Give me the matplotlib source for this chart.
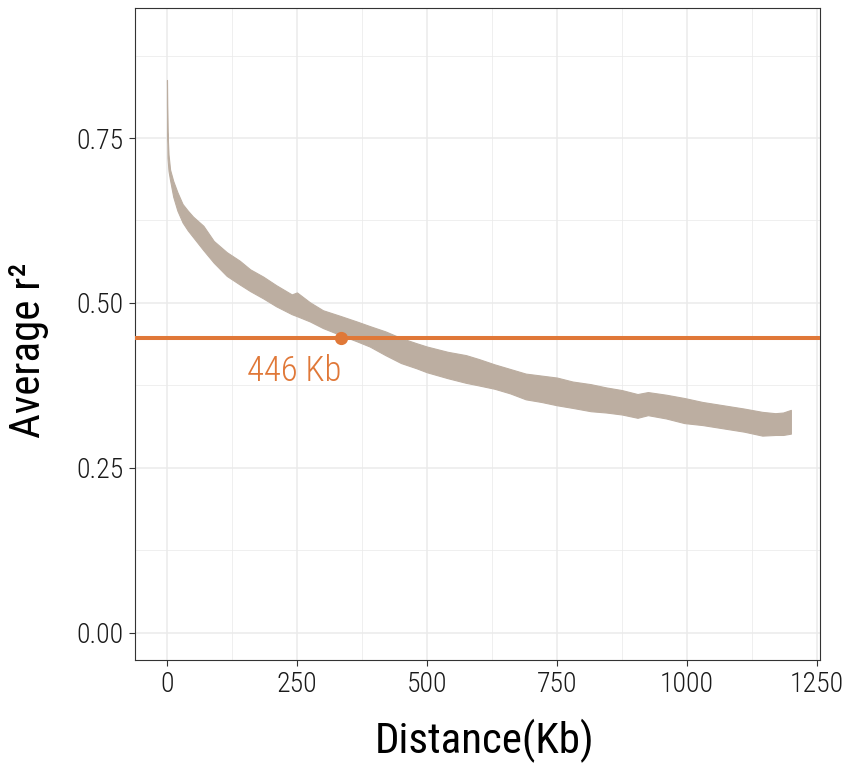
import matplotlib
matplotlib.use("Agg")
import matplotlib.pyplot as plt
from matplotlib.ticker import MultipleLocator, FixedLocator

plt.rcParams['font.family'] = ['Roboto Condensed', 'Liberation Sans Narrow', 'Roboto', 'DejaVu Sans']
plt.rcParams['font.weight'] = 'light'

# Data: envelope of the average r^2 band
dist_kb = [0, 1, 3, 6, 12, 20, 30, 40, 50, 70, 90, 115, 140, 160, 185, 210, 240, 250,
           275, 300, 335, 365, 390, 420, 450, 480, 500, 540, 575, 600, 630, 660, 690,
           720, 750, 780, 815, 845, 875, 905, 925, 960, 995, 1030, 1070, 1110, 1145,
           1170, 1185, 1200]
r2_upper = [0.838, 0.760, 0.725, 0.702, 0.685, 0.668, 0.650, 0.640, 0.631, 0.617, 0.594,
            0.577, 0.564, 0.551, 0.540, 0.527, 0.513, 0.516, 0.501, 0.489, 0.480, 0.472,
            0.465, 0.457, 0.447, 0.439, 0.434, 0.426, 0.421, 0.415, 0.407, 0.400, 0.393,
            0.390, 0.387, 0.381, 0.377, 0.372, 0.368, 0.362, 0.365, 0.361, 0.356, 0.350,
            0.345, 0.340, 0.335, 0.333, 0.334, 0.338]
r2_lower = [0.800, 0.720, 0.700, 0.686, 0.661, 0.640, 0.622, 0.610, 0.600, 0.580, 0.561,
            0.541, 0.528, 0.518, 0.507, 0.495, 0.483, 0.480, 0.472, 0.462, 0.451, 0.442,
            0.434, 0.421, 0.409, 0.401, 0.395, 0.386, 0.379, 0.375, 0.370, 0.363, 0.354,
            0.350, 0.345, 0.341, 0.336, 0.334, 0.331, 0.326, 0.330, 0.325, 0.318, 0.315,
            0.310, 0.305, 0.299, 0.300, 0.300, 0.302]

threshold_r2 = 0.4465
point_x = 335
label_text = "446 Kb"
label_x = 245
label_y = 0.397

x_ticks = [0, 250, 500, 750, 1000, 1250]
y_ticks = [0.0, 0.25, 0.5, 0.75]
y_tick_labels = ["0.00", "0.25", "0.50", "0.75"]

band_color = "#BCAEA1"
line_color = "#E07838"

fig = plt.figure(figsize=(8.48, 7.64), dpi=100)
ax = fig.add_axes([135/848, 1-660/764, (820-135)/848, (660-8)/764])

ax.fill_between(dist_kb, r2_lower, r2_upper, color=band_color, linewidth=0.8,
                edgecolor=band_color, zorder=3)
ax.axhline(threshold_r2, color=line_color, linewidth=2.9, zorder=4)
ax.plot([point_x], [threshold_r2], 'o', color=line_color, markersize=8.5, zorder=5)
ax.text(label_x, label_y, label_text, color=line_color, fontsize=25,
        ha='center', va='center', zorder=5)

ax.set_xlim(-61.5, 1256)
ax.set_ylim(-0.041, 0.947)
ax.xaxis.set_major_locator(FixedLocator(x_ticks))
ax.yaxis.set_major_locator(FixedLocator(y_ticks))
ax.set_yticklabels(y_tick_labels)
ax.xaxis.set_minor_locator(MultipleLocator(125))
ax.yaxis.set_minor_locator(MultipleLocator(0.125))

ax.grid(True, which='major', color='#EBEBEB', linewidth=1.1, zorder=0)
ax.grid(True, which='minor', color='#EBEBEB', linewidth=0.55, zorder=0)
ax.set_axisbelow(True)
ax.tick_params(which='minor', length=0)
ax.tick_params(which='major', length=4, width=0.8, color='#333333',
               labelsize=20, labelcolor='#1A1A1A', pad=4)
for s in ax.spines.values():
    s.set_color('#333333')
    s.set_linewidth(0.8)

ax.set_xlabel("Distance(Kb)", fontsize=31)
ax.set_ylabel("Average r²", fontsize=31)
ax.xaxis.set_label_coords((485-135)/685, (660-753)/652)
ax.yaxis.set_label_coords((29-135)/685, (660-350)/652)
ax.xaxis.label.set_va('baseline')
ax.yaxis.label.set_va('center')
ax.yaxis.label.set_ha('center')

fig.savefig("out.png", dpi=100)
